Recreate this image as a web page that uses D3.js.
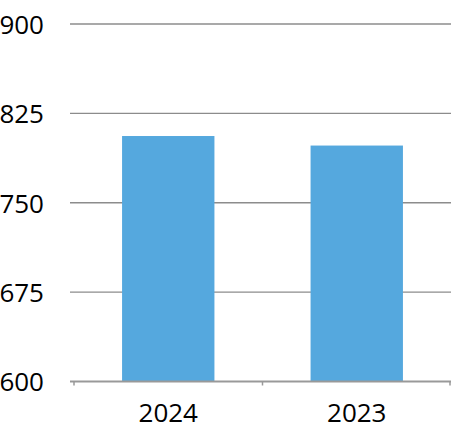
<!DOCTYPE html>
<html>
<head>
<meta charset="utf-8">
<script src="https://cdn.jsdelivr.net/npm/d3@7"></script>
<style>
  body { margin: 0; background: #fff; }
  text { font-family: 'Open Sans', sans-serif; fill: #000; }
</style>
</head>
<body>
<div id="chart"></div>
<script>
let categories = ['2024', '2023']
let values = [806, 798]
let yTicks = [600, 675, 750, 825, 900]

let width = 451
let height = 430

let svg = d3
  .select('#chart')
  .append('svg')
  .attr('width', width)
  .attr('height', height)

let xPositionScale = d3.scaleBand().domain(categories).range([74, 451]).padding(0)
let yPositionScale = d3.scaleLinear().domain([600, 900]).range([381.5, 24])

// gridlines
svg
  .selectAll('.grid-line')
  .data(yTicks.slice(1))
  .enter()
  .append('line')
  .attr('class', 'grid-line')
  .attr('x1', 70)
  .attr('x2', width)
  .attr('y1', d => yPositionScale(d))
  .attr('y2', d => yPositionScale(d))
  .attr('stroke', '#8c8c8c')
  .attr('stroke-width', 1.3)

// y labels
svg
  .selectAll('.y-label')
  .data(yTicks)
  .enter()
  .append('text')
  .attr('class', 'y-label')
  .attr('x', 44)
  .attr('y', d => yPositionScale(d))
  .attr('dy', '0.38em')
  .attr('text-anchor', 'end')
  .attr('font-size', 26)
  .text(d => d)

// bars
let barWidth = xPositionScale.step() * 0.49
svg
  .selectAll('.bar')
  .data(values)
  .enter()
  .append('rect')
  .attr('class', 'bar')
  .attr('x', (d, i) => xPositionScale(categories[i]) + xPositionScale.bandwidth() / 2 - barWidth / 2)
  .attr('y', d => yPositionScale(d))
  .attr('width', barWidth)
  .attr('height', d => yPositionScale(600) - yPositionScale(d))
  .attr('fill', '#55a8de')

// x axis
let xAxis = d3.axisBottom(xPositionScale).tickSize(0).tickSizeOuter(0)
let xAxisG = svg
  .append('g')
  .attr('class', 'axis x-axis')
  .attr('transform', `translate(0,${yPositionScale(600)})`)
  .call(xAxis)
xAxisG.select('.domain').remove()
xAxisG
  .selectAll('text')
  .attr('font-size', 26)
  .attr('dy', 0)
  .attr('y', 40.5)
  .style('font-family', "'Open Sans', sans-serif")
  .attr('fill', '#000')

xAxisG
  .append('line')
  .attr('x1', 70)
  .attr('x2', width)
  .attr('y1', 0)
  .attr('y2', 0)
  .attr('stroke', '#999')
  .attr('stroke-width', 2)

let bounds = [74].concat(categories.map(c => xPositionScale(c) + xPositionScale.step()))
xAxisG
  .selectAll('.band-tick')
  .data(bounds)
  .enter()
  .append('line')
  .attr('class', 'band-tick')
  .attr('x1', d => Math.min(d, width - 1))
  .attr('x2', d => Math.min(d, width - 1))
  .attr('y1', 0)
  .attr('y2', 4)
  .attr('stroke', '#999')
  .attr('stroke-width', 1.5)
</script>
</body>
</html>
